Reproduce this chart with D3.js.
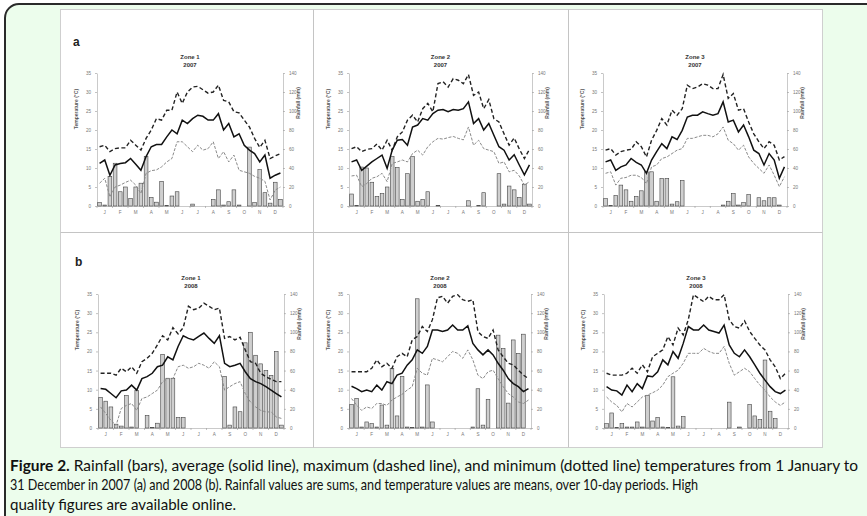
<!DOCTYPE html>
<html><head><meta charset="utf-8">
<script src="https://cdn.jsdelivr.net/npm/d3@7"></script>
<style>body{margin:0;background:#fff;} svg{display:block}</style>
</head><body><svg id="c" width="867" height="516"></svg>
<script>
const months = ["J","F","M","A","M","J","J","A","S","O","N","D"];
const tempTicks = [0,5,10,15,20,25,30,35];
const rainTicks = [0,20,40,60,80,100,120,140];

// Zone 1 2007
const z1_2007_rain = [3.5,1,31,45,15,20,8,20,24,52, 9,4,26,0.5,10.5,15,0,0,2,0, 0,0,7,17,1,4.5,17,1,0,62, 3.5,38.5,14,3,25,7];
const z1_2007_max  = [15.6,16,14.3,15.1,15.3,15.3,17.3,16,14.7,17.8, 20,23,22.6,25.2,25.2,30,27,30,31.3,31.5, 30.6,29.7,30,31.8,27.8,27.4,24.8,24.5,22.6,20.8, 17.8,15.4,17.3,12.5,13.2,13.8];
const z1_2007_avg  = [11.2,12.1,8.1,10.8,11.2,11.4,12.5,11,9.4,13, 15.6,16.2,16.2,18.2,20,19,22.6,21.7,23,23.9, 23.6,22.6,22.6,24.3,20,21.7,18.2,19,16,14.7, 13.8,11.6,13.4,7.3,8.1,8.7];
const z1_2007_min  = [6,7.3,2.4,5,5.5,6.2,6.8,5.5,3.3,8.6, 9.3,9.5,10.3,11.6,12.5,16.9,16.9,15.6,14.3,16, 14.7,15.1,16.9,12.5,14.3,11.6,13.4,9.4,9,8.6, 7.8,7.3,6.5,1.6,4.2,5];
// Zone 2 2007
const z2_2007_rain = [12.6,0.7,41,40,25,10,13,20,52,40.6, 7,34,52,5,7,15,0,0.5,0,0, 0,0,0,5.5,0,0.5,14,0,0,34, 2,21,17,9,23,2];
const z2_2007_max  = [15.1,15.6,14.3,14.9,15.1,16.3,14.7,17.3,14.7,18.2, 19.5,22.6,23.9,22.1,25.6,27,24.8,32.2,32.7,31.3, 33.5,33.1,32.2,34.6,29.1,30,25.6,28,23,22.1, 19,16,17.9,15,12.5,14.9];
const z2_2007_avg  = [11.6,12.1,9.4,10.5,11.6,12.5,13.4,9.9,14.7,17.3, 17.5,16,20.8,21.3,23,22.6,24.3,25.2,25.4,24.8, 25.4,25.2,25.6,27.4,21.7,23,20,21.7,18.6,15.6, 14.7,12.1,13.5,10.8,8.2,10.8];
const z2_2007_min  = [7.9,8.1,5.1,5.9,7.3,7.7,8.6,6.4,11.2,11.6, 12.1,11.6,13.8,14.7,13.4,15.6,16.9,17.8,17.6,18, 18.3,17.8,17.4,20.8,16,17.3,15.1,14.7,14.3,11.2, 11.6,9,9.4,7.9,5.5,6.4];
// Zone 3 2007
const z3_2007_rain = [7.7,0.5,11,22,17,5,10,16,36,36, 5,29,29,2,4.5,27,0,0,0,0, 0,0,0,1,5,13,1,3.5,12,0, 8.7,5.5,8.7,8.7,1,0];
const z3_2007_max  = [14.7,15.1,13.4,14.3,14.7,14.9,16.9,15.6,12.9,17.3, 19.9,23,21.3,25.2,23.9,25.6,31.8,30.9,31.3,32.2, 31.8,30.9,30.9,34.6,28.3,29.6,25.2,25.6,22.1,19, 16.9,15.1,16.9,16,12.1,13];
const z3_2007_avg  = [11.6,12.1,9.4,10.3,10.8,12.5,11.5,10.8,8.6,12.1, 14.3,16.4,15.1,18.2,17.5,19.9,23.4,23.9,23.9,24.8, 24.3,23.9,24.3,27.4,22.1,22.6,19.5,21.3,18.2,14.7, 13.8,10.8,13.8,12.1,7.3,10.3];
const z3_2007_min  = [8.6,9,5.5,7.3,7.5,8.1,8.1,7.5,5.9,10.3, 10.8,12.5,12.9,13.8,14.7,15.1,17.8,17.8,18.2,18.6, 18.6,18.2,19,20.8,17.3,16.4,14.7,16,12.9,11.2, 9.9,8.6,10.8,8.1,5.1,7.7];
// Zone 1 2008
const z1_2008_rain = [32,28,22,4,2,34,1,39,0,13, 0.5,5,77,52,52,11,11,0,0,0, 0,0,0,0,54,3,22,17,89,100, 76,67,60,55,80,3];
const z1_2008_max  = [14.3,14.3,14.3,13.8,15.6,14.7,16,14.3,17.3,18.2, 19.5,21.7,24.1,23,26.2,24.6,26.2,31.8,30.9,31.3, 32.6,31.8,30.9,31.3,23.4,23.9,23,23.7,20.4,17.3, 16.9,14.3,13.4,12.7,12.1,12.1];
const z1_2008_avg  = [10.3,10.1,9,7.9,9.7,9.9,11.2,9.9,12.9,13.4, 14.3,16,16.4,18.6,17.8,21.3,24.1,23.4,23,23.9, 24.8,23.4,22.1,24.1,16.9,16,16.4,16.9,14.7,12.9, 12.1,11.6,10.8,9.9,9,8.1];
const z1_2008_min  = [5.5,3.8,2,0.7,5.1,5.9,6.4,4.6,7.7,8.1, 9,9.9,12.1,12.9,12.9,16,16.4,15.6,16,16.9, 16.4,15.6,17.3,16,9.9,10.8,11.6,12.1,9,6.8, 5.5,4.6,4.2,4.2,2.9,2.5];
// Zone 2 2008
const z2_2008_rain = [24.5,31,1,6.3,4.5,1,24,3,62,12.6, 54,1,0.5,135,1,45,6.3,0,0,0, 0,0,0,0,1,41,3,30,0,97, 83,26,92,78,98,0];
const z2_2008_max  = [14.7,14.7,14.7,14.7,15.6,17.8,16,16.9,15.6,18.6, 19.5,18.6,23,23.9,26.5,25.2,28.3,34,34.4,32.6, 34.4,34.8,33.5,33.1,33.5,25.2,23.9,23.4,25.6,20.4, 18.6,16.9,16.5,15.1,13.8,12.9];
const z2_2008_avg  = [10.9,10.3,9.5,9.9,9.5,11.2,9.9,12.1,11.6,13.8, 14.3,16.4,17.8,20.4,19.5,21.3,25.6,25.6,25.2,25.6, 26.9,25.6,25.6,26.7,22.1,20.4,19.1,20.4,19.1,16.9, 15.1,12.9,11.6,10.8,9.5,10.3];
const z2_2008_min  = [7.7,6,4.6,5.5,5.1,6.4,6.4,5.9,7.3,8.1, 8.8,9.9,10.8,15.6,14.3,13.8,18.2,17.8,17.3,18.6, 20,19.5,18.2,20.4,17.8,13.8,12.9,14.7,15.1,12.9, 10.8,9,8.1,6.8,6.4,7.3];
// Zone 3 2008
const z3_2008_rain = [4.5,15.7,0.5,4.5,1,1,6.3,1,34,7.3, 11,1,0.5,53.5,2,12,0,0,0,0, 0,0,0,0,27,0,1,0,24.5,12.6, 8.7,71,17.5,9.8,0,0];
const z3_2008_max  = [14.3,13.8,13.8,13.8,14.3,15.6,14.3,16.5,14.7,18.6, 19.5,20.4,23.9,21.7,26.1,24.3,28.3,34.8,33.9,33, 34.4,33.5,33.5,34.8,28.3,26.5,26.1,28,25.2,23.4, 21.7,20.4,17.8,16,12.9,14.3];
const z3_2008_avg  = [10.8,9.9,9.7,8.6,11.2,9.5,11.6,10.3,13.6,13.4, 14.7,17.8,16.5,20,18.2,22.1,26.5,25.6,25.6,26.9, 25.6,25.2,24.8,26.9,21.7,19.5,18.6,20.4,18.6,16.5, 14.3,12.5,10.8,9.5,9,9.9];
const z3_2008_min  = [8.1,6.8,5.9,4.2,6.4,5.5,6.8,8.1,8.6,9.2, 9.9,11.2,13.4,14.3,15.1,16.9,19.5,19.5,19.5,20.8, 20,19.5,19.5,21.3,16.9,13.8,14.7,15.6,14.7,12.9, 11.2,9.9,8.1,6.8,5.9,6.8];

const captionLines = [
  {bold:"Figure 2.", text:" Rainfall (bars), average (solid line), maximum (dashed line), and minimum (dotted line) temperatures from 1 January to"},
  {bold:"", text:"31 December in 2007 (a) and 2008 (b). Rainfall values are sums, and temperature values are means, over 10-day periods. High"},
  {bold:"", text:"quality figures are available online."}
];

const panels = [
  {zone:"Zone 1", year:"2007", x0:97,  x1:283, y0:73,  y1:206, rain:z1_2007_rain, max:z1_2007_max, avg:z1_2007_avg, min:z1_2007_min},
  {zone:"Zone 2", year:"2007", x0:349, x1:532, y0:73,  y1:206, rain:z2_2007_rain, max:z2_2007_max, avg:z2_2007_avg, min:z2_2007_min},
  {zone:"Zone 3", year:"2007", x0:603, x1:787, y0:73,  y1:206, rain:z3_2007_rain, max:z3_2007_max, avg:z3_2007_avg, min:z3_2007_min},
  {zone:"Zone 1", year:"2008", x0:98,  x1:284, y0:294, y1:428, rain:z1_2008_rain, max:z1_2008_max, avg:z1_2008_avg, min:z1_2008_min},
  {zone:"Zone 2", year:"2008", x0:349, x1:531, y0:294, y1:428, rain:z2_2008_rain, max:z2_2008_max, avg:z2_2008_avg, min:z2_2008_min},
  {zone:"Zone 3", year:"2008", x0:604, x1:788, y0:294, y1:428, rain:z3_2008_rain, max:z3_2008_max, avg:z3_2008_avg, min:z3_2008_min}
];

const svg = d3.select("#c");
const sans = "'Liberation Sans', Arial, sans-serif";

// outer frame
svg.append("rect").attr("x",5).attr("y",4).attr("width",900).attr("height",560).attr("rx",14)
  .attr("fill","#ecfdec").attr("stroke","#2a2a2a").attr("stroke-width",2);
// figure white area
svg.append("rect").attr("x",60.5).attr("y",9.5).attr("width",762).attr("height",438)
  .attr("fill","#fff").attr("stroke","#cfcfcf");
[313.5,568.5].forEach(xv => svg.append("line").attr("x1",xv).attr("x2",xv).attr("y1",9.5).attr("y2",447.5).attr("stroke","#c4c4c4"));
svg.append("line").attr("x1",60.5).attr("x2",822.5).attr("y1",232.5).attr("y2",232.5).attr("stroke","#c4c4c4");

svg.append("text").attr("x",73).attr("y",46).text("a").attr("font-family",sans).attr("font-weight","bold").attr("font-size",12).attr("fill","#222");
svg.append("text").attr("x",75).attr("y",266).text("b").attr("font-family",sans).attr("font-weight","bold").attr("font-size",12).attr("fill","#222");

function styleAxis(g){
  g.selectAll(".domain").attr("stroke","#bdbdbd").attr("stroke-width",0.8);
  g.selectAll(".tick line").attr("stroke","#999").attr("stroke-width",0.6);
  g.selectAll(".tick text").attr("font-family",sans).attr("font-size",4.6).attr("fill","#777");
}

panels.forEach(p => {
  const g = svg.append("g");
  const x = d3.scaleBand().domain(d3.range(36)).range([p.x0, p.x1]).paddingInner(0.28).paddingOuter(0.14);
  const xm = d3.scaleBand().domain(d3.range(12)).range([p.x0, p.x1]);
  const yT = d3.scaleLinear().domain([0,35]).range([p.y1, p.y0]);
  const yR = d3.scaleLinear().domain([0,140]).range([p.y1, p.y0]);
  const cx = (p.x0 + p.x1)/2;

  // axes
  const la = g.append("g").attr("transform",`translate(${p.x0},0)`)
    .call(d3.axisLeft(yT).tickValues(tempTicks).tickSize(2).tickPadding(4).tickSizeOuter(0));
  styleAxis(la);
  const ra = g.append("g").attr("transform",`translate(${p.x1},0)`)
    .call(d3.axisRight(yR).tickValues(rainTicks).tickSize(2).tickPadding(4).tickSizeOuter(0));
  styleAxis(ra);
  const ba = g.append("g").attr("transform",`translate(0,${p.y1})`)
    .call(d3.axisBottom(xm).tickSize(0).tickPadding(5).tickFormat(i => months[i]));
  styleAxis(ba);
  g.append("g").selectAll("line").data(d3.range(13)).join("line")
    .attr("x1", i => xm.range()[0] + i*xm.step()).attr("x2", i => xm.range()[0] + i*xm.step())
    .attr("y1", p.y1).attr("y2", p.y1+2).attr("stroke","#999").attr("stroke-width",0.6);

  // axis titles
  g.append("text").attr("transform",`translate(${p.x0-19},${p.y0+36}) rotate(-90)`)
    .attr("text-anchor","middle").attr("font-family",sans).attr("font-weight","bold")
    .attr("font-size",5).attr("fill","#555").text("Temperature (°C)");
  g.append("text").attr("transform",`translate(${p.x1+17},${p.y0+30}) rotate(-90)`)
    .attr("text-anchor","middle").attr("font-family",sans).attr("font-weight","bold")
    .attr("font-size",5).attr("fill","#555").text("Rainfall (mm)");

  // titles
  g.append("text").attr("x",cx).attr("y",p.y0-14).attr("text-anchor","middle").attr("font-family",sans)
    .attr("font-weight","bold").attr("font-size",6).attr("fill","#333").text(p.zone);
  g.append("text").attr("x",cx).attr("y",p.y0-6).attr("text-anchor","middle").attr("font-family",sans)
    .attr("font-weight","bold").attr("font-size",6).attr("fill","#333").text(p.year);

  // bars
  g.append("g").selectAll("rect").data(p.rain).join("rect")
    .attr("x",(d,i)=>x(i)).attr("width",x.bandwidth())
    .attr("y",d=>yR(d)).attr("height",d=>p.y1-yR(d))
    .attr("fill","#cfcfcf").attr("stroke","#444").attr("stroke-width",0.6);

  const line = d3.line().x((d,i)=>x(i)+x.bandwidth()/2).y(d=>yT(d));
  g.append("path").datum(p.min).attr("d",line).attr("fill","none")
    .attr("stroke","#8a8a8a").attr("stroke-width",1).attr("stroke-dasharray","3,1.5");
  g.append("path").datum(p.max).attr("d",line).attr("fill","none")
    .attr("stroke","#222").attr("stroke-width",1.4).attr("stroke-dasharray","4,2.5");
  g.append("path").datum(p.avg).attr("d",line).attr("fill","none")
    .attr("stroke","#111").attr("stroke-width",1.5);
});

// caption
const capWidths = [848, 688, 226];
captionLines.forEach((c, k) => {
  const t = svg.append("text").attr("x",10).attr("y",471 + k*19.3)
    .attr("font-family","Lato, 'Open Sans', sans-serif").attr("font-size",15).attr("fill","#111")
    .attr("textLength",capWidths[k]).attr("lengthAdjust","spacingAndGlyphs");
  if (c.bold) t.append("tspan").attr("font-weight","bold").text(c.bold);
  t.append("tspan").text(c.text);
});
</script>
</body></html>
